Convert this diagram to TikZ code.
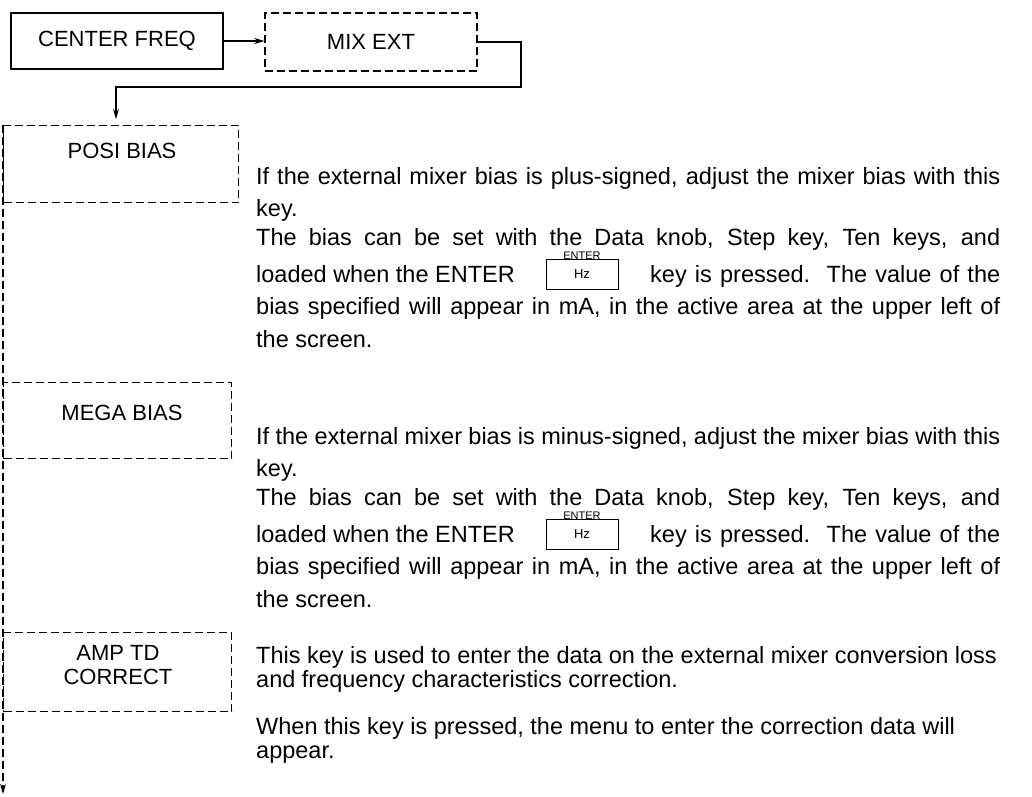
\documentclass[tikz,border=0pt]{standalone}
\usepackage{fontspec}
\setmainfont{Liberation Sans}
\usetikzlibrary{arrows.meta}
\newcommand\jl[2]{\makebox[#1][s]{#2}}
\begin{document}
\begin{tikzpicture}[x=1bp,y=-1bp,
  every node/.style={font=\fontsize{22bp}{26bp}\selectfont, inner sep=0pt},
  body/.style={font=\fontsize{23.5bp}{27bp}\selectfont},
  ln/.style={line width=1.3bp},
  dsh/.style={ln, dash pattern=on 8bp off 4bp},
  solidbox/.style={draw, ln, rectangle},
  dashbox/.style={draw, dsh, rectangle},
  txt/.style={body, anchor=mid west},
  arr/.style={-{Stealth[length=10bp,width=6bp]}},
  keybox/.style={draw, line width=1bp, minimum width=72bp, minimum height=30bp, font=\fontsize{13bp}{15bp}\selectfont},
  small/.style={font=\fontsize{11bp}{13bp}\selectfont}
]
\useasboundingbox (0,0) rectangle (1032,797);

% top row
\node[solidbox, minimum width=212bp, minimum height=56bp] (cf) at (117,41) {CENTER FREQ};
\node[dashbox, minimum width=212bp, minimum height=58bp] (mix) at (371,42) {MIX EXT};
\draw[ln,arr] (cf.east) -- (cf.east -| mix.west);
\coordinate (c1) at (521,87);
\coordinate (c2) at (116,87);
\coordinate (c3) at (116,119);
\draw[ln,arr] (mix.east) -| (c1) -- (c2) -- (c3);

% left boxes
\node[dashbox, minimum width=235bp, minimum height=77bp, anchor=north west] (posi) at (3,125) {};
\node (posit) at (122,151) {POSI BIAS};
\node[dashbox, minimum width=228bp, minimum height=76bp, anchor=north west] (mega) at (3,382) {};
\node (megat) at (122,413) {MEGA BIAS};
\node[dashbox, minimum width=228bp, minimum height=79bp, anchor=north west] (amp) at (3,632) {};
\node[align=center] (ampt) at (118,665) {AMP TD\\[-2bp]CORRECT};
\coordinate (c4) at (3,794);
\draw[dsh,arr] (posi.north west) -- (c4);

% block 1
\node[txt] (p1) at (256,182) {\jl{744bp}{If the external mixer bias is plus-signed, adjust the mixer bias with this}};
\node[txt] (p2) at (256,214) {key.};
\node[txt] (p3) at (256,243) {\jl{744bp}{The bias can be set with the Data knob, Step key, Ten keys, and}};
\node[txt] (p4a) at (256,280) {loaded when the ENTER};
\node[keybox] (k1) at (582,274) {Hz};
\node[small, anchor=base] (k1l) at ([yshift=-1bp]k1.north) {ENTER};
\node[txt] (p4b) at (650,280) {\jl{350bp}{key is pressed.\ \ The value of the}};
\node[txt] (p5) at (256,312) {\jl{744bp}{bias specified will appear in mA, in the active area at the upper left of}};
\node[txt] (p6) at (256,345) {the screen.};

% block 2
\node[txt] (q1) at (256,442) {\jl{744bp}{If the external mixer bias is minus-signed, adjust the mixer bias with this}};
\node[txt] (q2) at (256,474) {key.};
\node[txt] (q3) at (256,503) {\jl{744bp}{The bias can be set with the Data knob, Step key, Ten keys, and}};
\node[txt] (q4a) at (256,540) {loaded when the ENTER};
\node[keybox] (k2) at (582,534) {Hz};
\node[small, anchor=base] (k2l) at ([yshift=-1bp]k2.north) {ENTER};
\node[txt] (q4b) at (650,540) {\jl{350bp}{key is pressed.\ \ The value of the}};
\node[txt] (q5) at (256,572) {\jl{744bp}{bias specified will appear in mA, in the active area at the upper left of}};
\node[txt] (q6) at (256,605) {the screen.};

% block 3
\node[txt] (r1) at (256,661) {This key is used to enter the data on the external mixer conversion loss};
\node[txt] (r2) at (256,685) {and frequency characteristics correction.};
\node[txt] (r3) at (256,732) {When this key is pressed, the menu to enter the correction data will};
\node[txt] (r4) at (256,756) {appear.};
\end{tikzpicture}
\end{document}
